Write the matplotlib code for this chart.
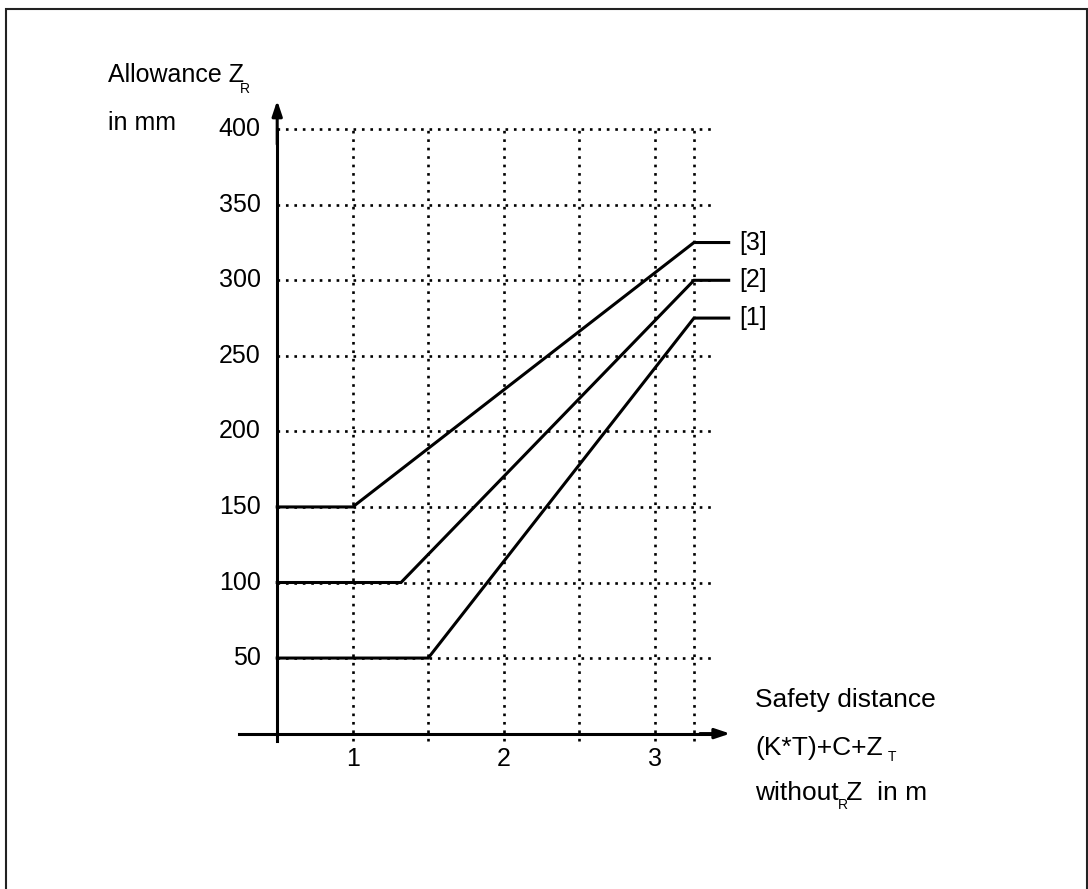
import matplotlib
matplotlib.use("Agg")
import matplotlib.pyplot as plt
from matplotlib.patches import Rectangle

plt.rcParams['font.family'] = ['Liberation Sans', 'DejaVu Sans']

# data
series_names = ["[1]", "[2]", "[3]"]
series_x = [
    [0.5, 1.5, 3.26, 3.49],
    [0.5, 1.32, 3.26, 3.49],
    [0.5, 1.0, 3.26, 3.49],
]
series_y = [
    [50, 50, 275, 275],
    [100, 100, 300, 300],
    [150, 150, 325, 325],
]
y_ticks = [50, 100, 150, 200, 250, 300, 350, 400]
x_ticks = [1, 2, 3]
x_grid = [1, 1.5, 2, 2.5, 3, 3.26]

W, H = 1088, 889
fig = plt.figure(figsize=(W / 100, H / 100), dpi=100)

# axes placement in pixels (x=1 -> 352.7px, 1 unit = 151px; y=0 -> 733.6px, 1 unit = 1.511px)
xlim = (0.2, 3.6)
ylim = (-10, 420)
px_x = lambda v: 352.7 + (v - 1) * 151
px_y = lambda v: 733.6 - v * 1.511
left = px_x(xlim[0]) / W
right = px_x(xlim[1]) / W
bottom = 1 - px_y(ylim[0]) / H
top = 1 - px_y(ylim[1]) / H
ax = fig.add_axes([left, bottom, right - left, top - bottom])
ax.set_xlim(*xlim)
ax.set_ylim(*ylim)
ax.axis("off")

dot = (0, (1, 2.2))
for gx in x_grid:
    ax.plot([gx, gx], [-5, 400], color="black", lw=1.9, linestyle=dot, clip_on=False)
for gy in y_ticks:
    ax.plot([0.5, 3.39], [gy, gy], color="black", lw=1.9, linestyle=dot, clip_on=False)

# axes with arrows
ax.plot([0.5, 0.5], [-5, 400], color="black", lw=2.2, clip_on=False)
ax.annotate("", xy=(0.5, 419), xytext=(0.5, 390),
            arrowprops=dict(arrowstyle="-|>,head_length=0.9,head_width=0.3", color="black", lw=2.2,
                            shrinkA=0, shrinkB=0))
ax.plot([0.25, 3.42], [0, 0], color="black", lw=2.2, clip_on=False)
ax.annotate("", xy=(3.5, 0), xytext=(3.3, 0),
            arrowprops=dict(arrowstyle="-|>,head_length=0.9,head_width=0.3", color="black", lw=2.2,
                            shrinkA=0, shrinkB=0))

for xs, ys, name in zip(series_x, series_y, series_names):
    ax.plot(xs, ys, color="black", lw=2.2, solid_joinstyle="miter", clip_on=False)
    ax.text(3.56, ys[-1], name, ha="left", va="center", fontsize=18)

for v in y_ticks:
    ax.text(0.39, v, str(v), ha="right", va="center", fontsize=18)
for v in x_ticks:
    ax.text(v, -17, str(v), ha="center", va="center", fontsize=18)

def ftext(x, y, s, size=18):
    fig.text(x / W, 1 - y / H, s, ha="left", va="center", fontsize=size)

ftext(108, 75, "Allowance Z")
ftext(240, 89, "R", 10)
ftext(108, 123, "in mm")
ftext(755, 700, "Safety distance", 19)
ftext(755, 748, "(K*T)+C+Z", 19)
ftext(888, 757, "T", 10)
ftext(755, 793, "without Z  in m", 19)
ftext(838, 805, "R", 10)

fig.patches.append(Rectangle((6 / W, -0.05), (1087 - 6) / W, 1.05 - 9 / H, transform=fig.transFigure,
                             fill=False, edgecolor="#222222", lw=1.5))

fig.savefig("out.png", dpi=100)
